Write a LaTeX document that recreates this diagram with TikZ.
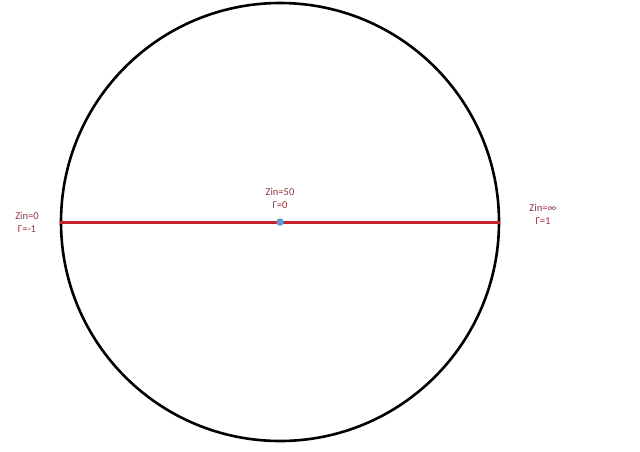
\documentclass[tikz,border=0pt]{standalone}
\usepackage{fontspec}
\setmainfont{Carlito}
\usepackage{tikz}
\usetikzlibrary{positioning}

\definecolor{labelred}{RGB}{150,50,60}
\definecolor{linered}{RGB}{195,35,45}
\definecolor{dotblue}{RGB}{91,155,213}

\begin{document}
\begin{tikzpicture}[
    x=1pt, y=-1pt,
    chart/.style={circle, draw=black, line width=2.6pt, minimum size=438pt, inner sep=0pt},
    dot/.style={circle, fill=dotblue, inner sep=0pt, minimum size=7.5pt},
    note/.style={text=labelred, align=center, font=\fontsize{10.5}{13}\selectfont, inner sep=1pt}]
    \useasboundingbox (0,0) rectangle (640,451);
    % Circle and points
    \node[chart] (smith) at (280,222) {};
    \coordinate (match) at (280,222);

    % Real axis
    \draw[linered, line width=3pt] (smith.west) -- (match) -- (smith.east);
    \node[dot] (center dot) at (match) {};

    % Labels
    \node[note] (short) at (27,222) {Zin=0\\Γ=-1};
    \node[note] (center) at (280,198) {Zin=50\\Γ=0};
    \node[note] (open) at (543,214) {Zin=∞\\Γ=1};
\end{tikzpicture}
\end{document}
